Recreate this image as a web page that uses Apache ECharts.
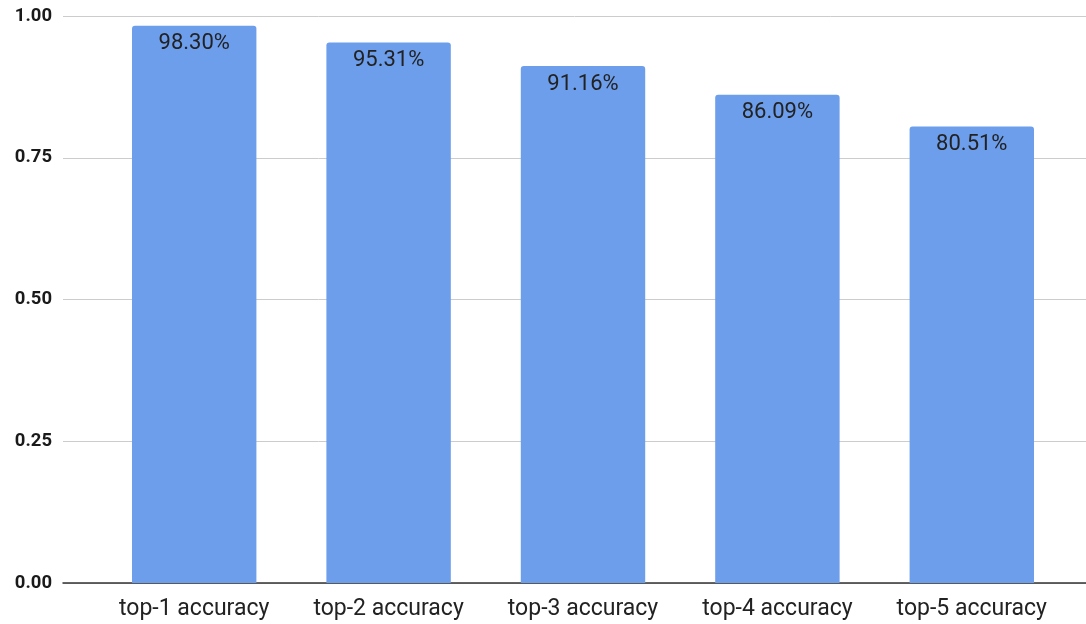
<!DOCTYPE html>
<html>
<head>
<meta charset="utf-8">
<script src="https://cdn.jsdelivr.net/npm/echarts@6/dist/echarts.min.js"></script>
<style>
  html, body { margin: 0; padding: 0; background: #ffffff; }
  #chart { width: 1086px; height: 624px; }
</style>
</head>
<body>
<div id="chart"></div>
<script>
// Categories and accuracy values (fractions of 1)
const categories = ['top-1 accuracy', 'top-2 accuracy', 'top-3 accuracy', 'top-4 accuracy', 'top-5 accuracy'];
const accuracy = [0.9830, 0.9531, 0.9116, 0.8609, 0.8051];
const yTicks = { min: 0, max: 1, interval: 0.25 };

const chart = echarts.init(document.getElementById('chart'));
const font = 'Roboto, "Noto Sans", sans-serif';

chart.setOption({
  animation: false,
  // grid 0: wide frame carrying gridlines, y labels and the baseline
  // grid 1: the bars themselves, inset horizontally
  grid: [
    { left: 63, right: 0, top: 16, bottom: 41 },
    { left: 97, right: 17, top: 16, bottom: 41 }
  ],
  xAxis: [
    {
      gridIndex: 0, type: 'category', data: [''],
      axisLine: { show: true, lineStyle: { color: '#333333', width: 1.5 } },
      axisTick: { show: false }, axisLabel: { show: false }
    },
    {
      gridIndex: 1, type: 'category', data: categories,
      axisLine: { show: false }, axisTick: { show: false },
      axisLabel: { interval: 0, color: '#222222', fontSize: 23, fontFamily: font, margin: 15 }
    }
  ],
  yAxis: [
    {
      gridIndex: 0, type: 'value', min: yTicks.min, max: yTicks.max, interval: yTicks.interval,
      axisLine: { show: false }, axisTick: { show: false },
      axisLabel: {
        color: '#1a1a1a', fontSize: 18.5, fontWeight: 'bold', fontFamily: font, margin: 11,
        formatter: v => v.toFixed(2)
      },
      splitLine: { lineStyle: { color: '#cccccc', width: 1 } }
    },
    {
      gridIndex: 1, type: 'value', min: yTicks.min, max: yTicks.max, interval: yTicks.interval,
      show: false, splitLine: { show: false }
    }
  ],
  series: [{
    type: 'bar',
    xAxisIndex: 1, yAxisIndex: 1,
    data: accuracy,
    barWidth: '64%',
    itemStyle: { color: '#6d9eeb', borderRadius: [3, 3, 0, 0] },
    label: {
      show: true, position: 'insideTop', distance: 7,
      color: '#222222', fontSize: 22, fontFamily: font,
      formatter: p => (p.value * 100).toFixed(2) + '%'
    }
  }]
});
</script>
</body>
</html>
